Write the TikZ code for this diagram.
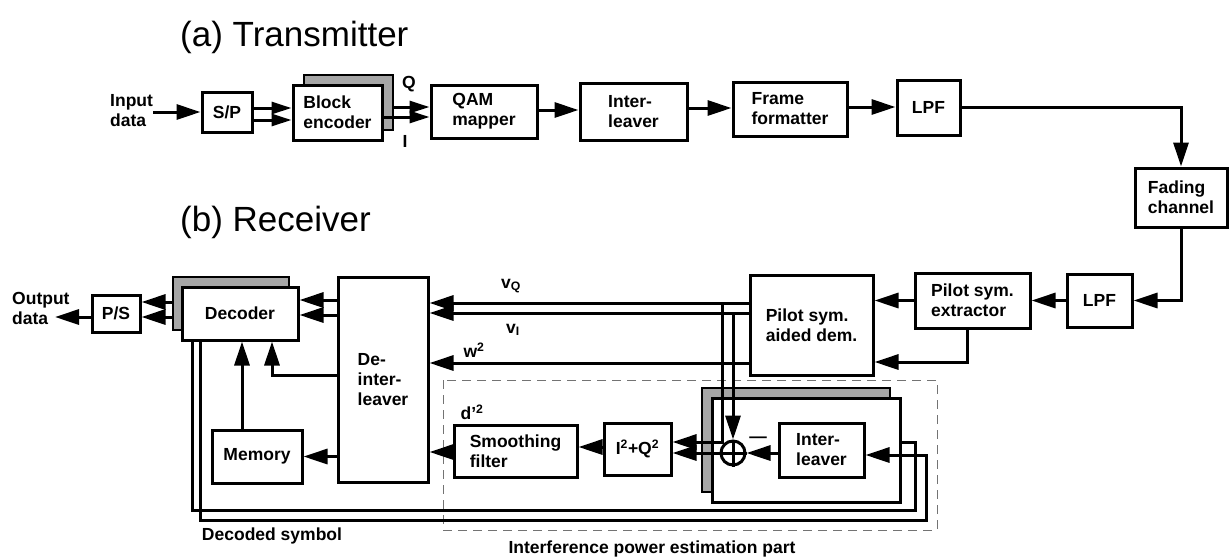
\documentclass[tikz,border=0pt]{standalone}
\usepackage{fontspec}
\setmainfont{Liberation Sans}
\usetikzlibrary{arrows.meta}
\newcommand\lblf{\fontsize{17.5}{20}\selectfont\bfseries}
\newcommand\ttlf{\fontsize{35}{40}\selectfont}
\tikzset{
 box/.style={draw, line width=3pt, fill=white, inner sep=0pt, align=left, font=\lblf},
 shad/.style={draw, line width=2.5pt, fill=black!35, inner sep=0pt},
 lbl/.style={inner sep=0pt, align=left, font=\lblf},
 arr/.style={line width=3pt, -{Triangle[length=24pt,width=15pt]}},
 arrs/.style={line width=3pt, -{Triangle[length=20pt,width=12pt]}},
 ln/.style={line width=3pt},
 dsh/.style={line width=1pt, black!55, dash pattern=on 9pt off 6pt},
}
\begin{document}
\begin{tikzpicture}[x=1pt,y=-1pt]
\useasboundingbox (0,0) rectangle (1229,558);
% titles
\node[anchor=base west, inner sep=0pt, font=\ttlf] (tt) at (180,46) {(a) Transmitter};
\node[anchor=base west, inner sep=0pt, font=\ttlf] (tr) at (180,231) {(b) Receiver};
% dashed region
\draw[dsh] (443,380) rectangle (937,530);
% transmitter
\node[lbl, anchor=west] (inp) at (110,110.5) {Input\\data};
\node[box, minimum width=50pt, minimum height=40pt] (sp) at (227,112) {S/P};
\node[shad, minimum width=89pt, minimum height=55pt] (encS) at (348.5,102.5) {};
\node[box, minimum width=89pt, minimum height=55pt] (enc) at (337.5,112.5) {Block\\encoder};
\node[box, minimum width=106pt, minimum height=53pt] (qam) at (484,111.5) {QAM\\mapper};
\node[box, minimum width=107pt, minimum height=57pt] (intl) at (633.5,111.5) {Inter-\\leaver};
\node[box, minimum width=114pt, minimum height=54pt] (frm) at (790,109) {Frame\\formatter};
\node[box, minimum width=63pt, minimum height=55pt] (lpfa) at (928.5,107.5) {LPF};
\node[box, minimum width=92pt, minimum height=59pt] (fad) at (1181,197.5) {Fading\\channel};
\node[lbl] (q) at (409,84) {Q};
\node[lbl] (i) at (405,141) {I};
% receiver
\node[box, minimum width=65pt, minimum height=53pt] (lpfb) at (1099.5,300.5) {LPF};
\node[box, minimum width=115pt, minimum height=55pt] (ext) at (972.5,300.5) {Pilot sym.\\extractor};
\node[box, minimum width=123pt, minimum height=100pt] (dem) at (811.5,325) {Pilot sym.\\aided dem.};
\node[box, minimum width=90pt, minimum height=205pt] (dei) at (383,379.5) {De-\\inter-\\leaver};
\node[shad, minimum width=116pt, minimum height=53pt] (decS) at (231,303.5) {};
\node[box, minimum width=116pt, minimum height=53pt] (dec) at (240,313.5) {Decoder};
\node[box, minimum width=48pt, minimum height=37pt] (ps) at (116,313.5) {P/S};
\node[lbl, anchor=west] (out) at (12,308.5) {Output\\data};
\coordinate (outp) at (55,317);
\node[box, minimum width=90pt, minimum height=53pt] (mem) at (257,456.5) {Memory};
\node[box, minimum width=123pt, minimum height=52pt] (smf) at (515.5,451) {Smoothing\\filter};
\node[box, minimum width=67pt, minimum height=52pt] (iq) at (637.5,449) {I\textsuperscript{2}+Q\textsuperscript{2}};
\node[shad, minimum width=188pt, minimum height=104pt] (bigS) at (796,440) {};
\node[box, minimum width=188pt, minimum height=104pt] (big) at (806,450) {};
\node[box, minimum width=85pt, minimum height=54pt] (iil) at (821.5,450) {Inter-\\leaver};
\node[circle, draw, line width=3pt, fill=white, minimum size=24pt, inner sep=0pt] (add) at (733,453) {};
\draw[line width=3pt] (add.north) -- (add.south) (add.west) -- (add.east);
\node[lbl] (mns) at (758,440) {—};
% labels
\node[lbl] (vq) at (511,286) {v\textsubscript{Q}};
\node[lbl] (vi) at (513,330) {v\textsubscript{I}};
\node[lbl] (w2) at (474,350) {w\textsuperscript{2}};
\node[lbl] (d2) at (472,412) {d'\textsuperscript{2}};
\node[lbl] (ds) at (272,536) {Decoded symbol};
\node[lbl] (ip) at (652,549) {Interference power estimation part};
% transmitter connectors
\draw[arr] (inp.east |- 0,112) -- (sp.west |- 0,112);
\draw[arrs] (sp.east |- 0,108) -- (enc.west |- 0,108);
\draw[arrs] (sp.east |- 0,120) -- (enc.west |- 0,120);
\draw[arrs] (encS.east |- 0,107) -- (qam.west |- 0,107);
\draw[arrs] (enc.east |- 0,117) -- (qam.west |- 0,117);
\draw[arr] (qam.east |- 0,110) -- (intl.west |- 0,110);
\draw[arr] (intl.east |- 0,108) -- (frm.west |- 0,108);
\draw[arr] (frm.east |- 0,107) -- (lpfa.west |- 0,107);
\draw[arr] (lpfa.east |- 0,107) -| (fad.north);
% receiver connectors
\draw[arr] (fad.south) |- (lpfb.east);
\draw[arr] (lpfb.west) -- (ext.east |- lpfb.west);
\draw[arr] (ext.west) -- (dem.east |- ext.west);
\draw[arr] (ext.south -| 967,0) |- (dem.east |- 0,362);
\draw[arr] (dem.west |- 0,303) -- (dei.east |- 0,303);
\draw[arr] (dem.west |- 0,313) -- (dei.east |- 0,313);
\draw[arr] (dem.west |- 0,363) -- (dei.east |- 0,363);
\coordinate (bq) at (722,303);
\coordinate (bi) at (733,313);
\draw[arr] (bq) |- (iq.east |- 0,442);
\draw[arr] (bi) -- (add.north);
\draw[arr] (iil.west |- add) -- (add.east);
\draw[arr] (add.west) -- (iq.east |- add.west);
\draw[arr] (iq.west |- 0,447) -- (smf.east |- 0,447);
\draw[arr] (smf.west |- 0,452) -- (dei.east |- 0,452);
\draw[arr] (dei.west |- 0,300) -- (dec.east |- 0,300);
\draw[arr] (dei.west |- 0,315) -- (dec.east |- 0,315);
\draw[arr] (dei.west |- 0,375) -| (dec.south -| 272,0);
\draw[arr] (dei.west |- mem.east) -- (mem.east);
\draw[arr] (mem.north -| 242,0) -- (dec.south -| 242,0);
\draw[arr] (decS.west |- 0,302) -- (ps.east |- 0,302);
\draw[arr] (decS.west |- 0,317) -- (ps.east |- 0,317);
\draw[arr] (ps.west |- 0,317) -- (outp);
% decoded symbol feedback
\draw[ln] (dec.south -| 192,0) |- (915,510) |- (big.east |- 0,442);
\draw[arr] (dec.south -| 200,0) |- (926,520) |- (iil.east |- 0,455);
\end{tikzpicture}
\end{document}
